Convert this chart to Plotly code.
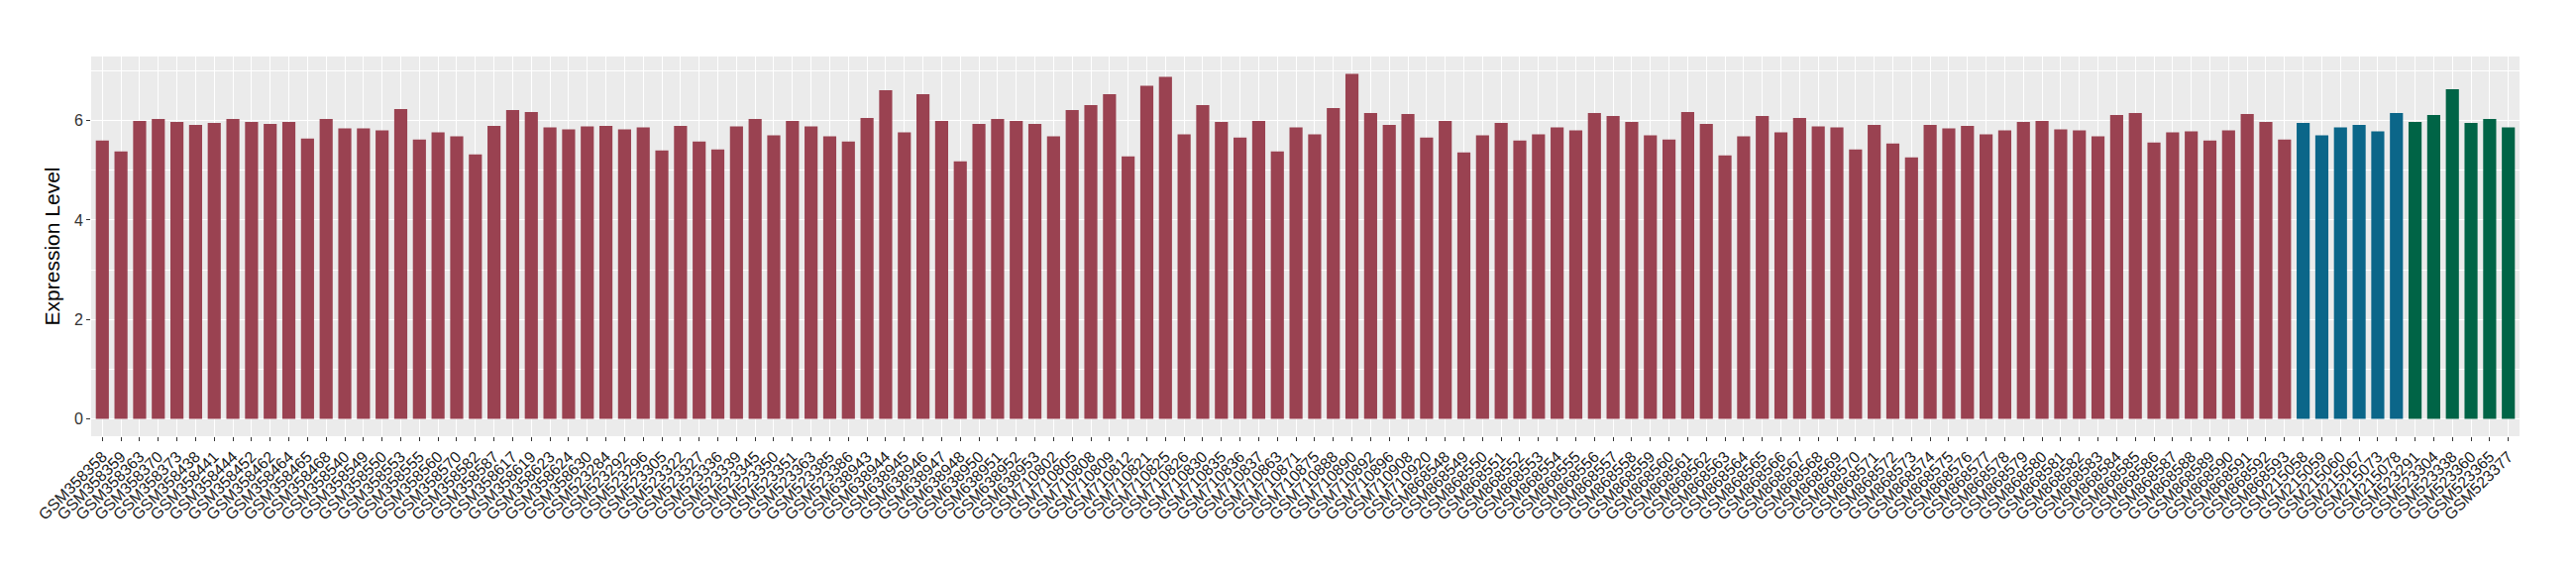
import plotly.graph_objects as go

# ---- data ----
samples_a = [
    "GSM358358", "GSM358359", "GSM358363", "GSM358370", "GSM358373", "GSM358438", "GSM358441",
    "GSM358444", "GSM358452", "GSM358462", "GSM358464", "GSM358465", "GSM358468", "GSM358540",
    "GSM358549", "GSM358550", "GSM358553", "GSM358555", "GSM358560", "GSM358570", "GSM358582",
    "GSM358587", "GSM358617", "GSM358619", "GSM358623", "GSM358624", "GSM358630",
    "GSM523284", "GSM523292", "GSM523296", "GSM523305", "GSM523322", "GSM523327", "GSM523336",
    "GSM523339", "GSM523345", "GSM523350", "GSM523351", "GSM523363", "GSM523385", "GSM523386",
    "GSM638943", "GSM638944", "GSM638945", "GSM638946", "GSM638947", "GSM638948", "GSM638950",
    "GSM638951", "GSM638952", "GSM638953",
    "GSM710802", "GSM710805", "GSM710808", "GSM710809", "GSM710812", "GSM710821", "GSM710825",
    "GSM710826", "GSM710830", "GSM710835", "GSM710836", "GSM710837", "GSM710863", "GSM710871",
    "GSM710875", "GSM710888", "GSM710890", "GSM710892", "GSM710896", "GSM710908", "GSM710920",
    "GSM868548", "GSM868549", "GSM868550", "GSM868551", "GSM868552", "GSM868553", "GSM868554",
    "GSM868555", "GSM868556", "GSM868557", "GSM868558", "GSM868559", "GSM868560", "GSM868561",
    "GSM868562", "GSM868563", "GSM868564", "GSM868565", "GSM868566", "GSM868567", "GSM868568",
    "GSM868569", "GSM868570", "GSM868571", "GSM868572", "GSM868573", "GSM868574", "GSM868575",
    "GSM868576", "GSM868577", "GSM868578", "GSM868579", "GSM868580", "GSM868581", "GSM868582",
    "GSM868583", "GSM868584", "GSM868585", "GSM868586", "GSM868587", "GSM868588", "GSM868589",
    "GSM868590", "GSM868591", "GSM868592", "GSM868593",
]
values_a = [
    5.60, 5.38, 5.99, 6.03, 5.97, 5.91, 5.95, 6.03, 5.97, 5.93, 5.97, 5.64, 6.03, 5.84,
    5.84, 5.80, 6.23, 5.62, 5.76, 5.68, 5.32, 5.89, 6.21, 6.17, 5.86, 5.82, 5.88,
    5.89, 5.82, 5.86, 5.40, 5.89, 5.58, 5.42, 5.88, 6.03, 5.70, 5.99, 5.88, 5.68, 5.58,
    6.05, 6.61, 5.76, 6.53, 5.99, 5.18, 5.93, 6.03, 5.99, 5.93,
    5.68, 6.21, 6.31, 6.53, 5.28, 6.70, 6.88, 5.72, 6.31, 5.97, 5.66, 5.99, 5.38, 5.86,
    5.72, 6.25, 6.94, 6.15, 5.91, 6.13, 5.66,
    5.99, 5.36, 5.70, 5.95, 5.60, 5.72, 5.86, 5.80, 6.15, 6.09, 5.97, 5.70, 5.62, 6.17,
    5.93, 5.30, 5.68, 6.09, 5.76, 6.05, 5.88, 5.86, 5.42, 5.91, 5.54, 5.26, 5.91, 5.84,
    5.89, 5.72, 5.80, 5.97, 5.99, 5.82, 5.80, 5.68, 6.11, 6.15, 5.56, 5.76, 5.78, 5.60,
    5.80, 6.13, 5.97, 5.62,
]
samples_b = ["GSM215058", "GSM215059", "GSM215060", "GSM215067", "GSM215073", "GSM215078"]
values_b = [5.95, 5.70, 5.86, 5.91, 5.78, 6.15]
samples_c = ["GSM523291", "GSM523304", "GSM523338", "GSM523360", "GSM523365", "GSM523377"]
values_c = [5.97, 6.11, 6.63, 5.95, 6.03, 5.86]

color_a = "#9A4251"
color_b = "#0B6689"
color_c = "#006446"

all_samples = samples_a + samples_b + samples_c
ymax = max(values_a + values_b + values_c)

fig = go.Figure()
for xs, ys, col in [(samples_a, values_a, color_a), (samples_b, values_b, color_b), (samples_c, values_c, color_c)]:
    fig.add_trace(go.Bar(x=xs, y=ys, marker=dict(color=col, line=dict(width=0)), width=0.7,
                         showlegend=False))

font_family = "Liberation Sans, Arial, DejaVu Sans, sans-serif"
# page body has an 8px default margin, so the figure is sized/offset to compensate
fig.update_layout(
    width=2592, height=572,
    margin=dict(l=84, r=57, t=49, b=140),
    paper_bgcolor="white",
    plot_bgcolor="#EBEBEB",
    barmode="overlay",
    font=dict(family=font_family, color="black"),
    xaxis=dict(
        type="category", categoryorder="array", categoryarray=all_samples,
        range=[-0.6, len(all_samples) - 0.4],
        tickmode="array", tickvals=all_samples, ticktext=all_samples,
        tickangle=-45, tickfont=dict(size=16, color="#1a1a1a"),
        showgrid=True, gridcolor="white", gridwidth=1.4,
        ticks="outside", ticklen=4, tickcolor="#333333", tickwidth=1,
        zeroline=False, showline=False, automargin=False,
    ),
    yaxis=dict(
        range=[-0.05 * ymax, 1.05 * ymax],
        tickvals=[0, 2, 4, 6], ticktext=["0", "2", "4", "6"],
        tickfont=dict(size=16, color="#333333"),
        showgrid=True, gridcolor="white", gridwidth=1.4,
        minor=dict(tickvals=[1, 3, 5, 7], showgrid=True, gridcolor="white", gridwidth=0.7, ticks=""),
        ticks="outside", ticklen=4, tickcolor="#333333", tickwidth=1,
        zeroline=False, showline=False, automargin=False,
        title=dict(text="Expression Level", font=dict(size=21, color="black"), standoff=8),
    ),
)

fig.write_html("out.html")
